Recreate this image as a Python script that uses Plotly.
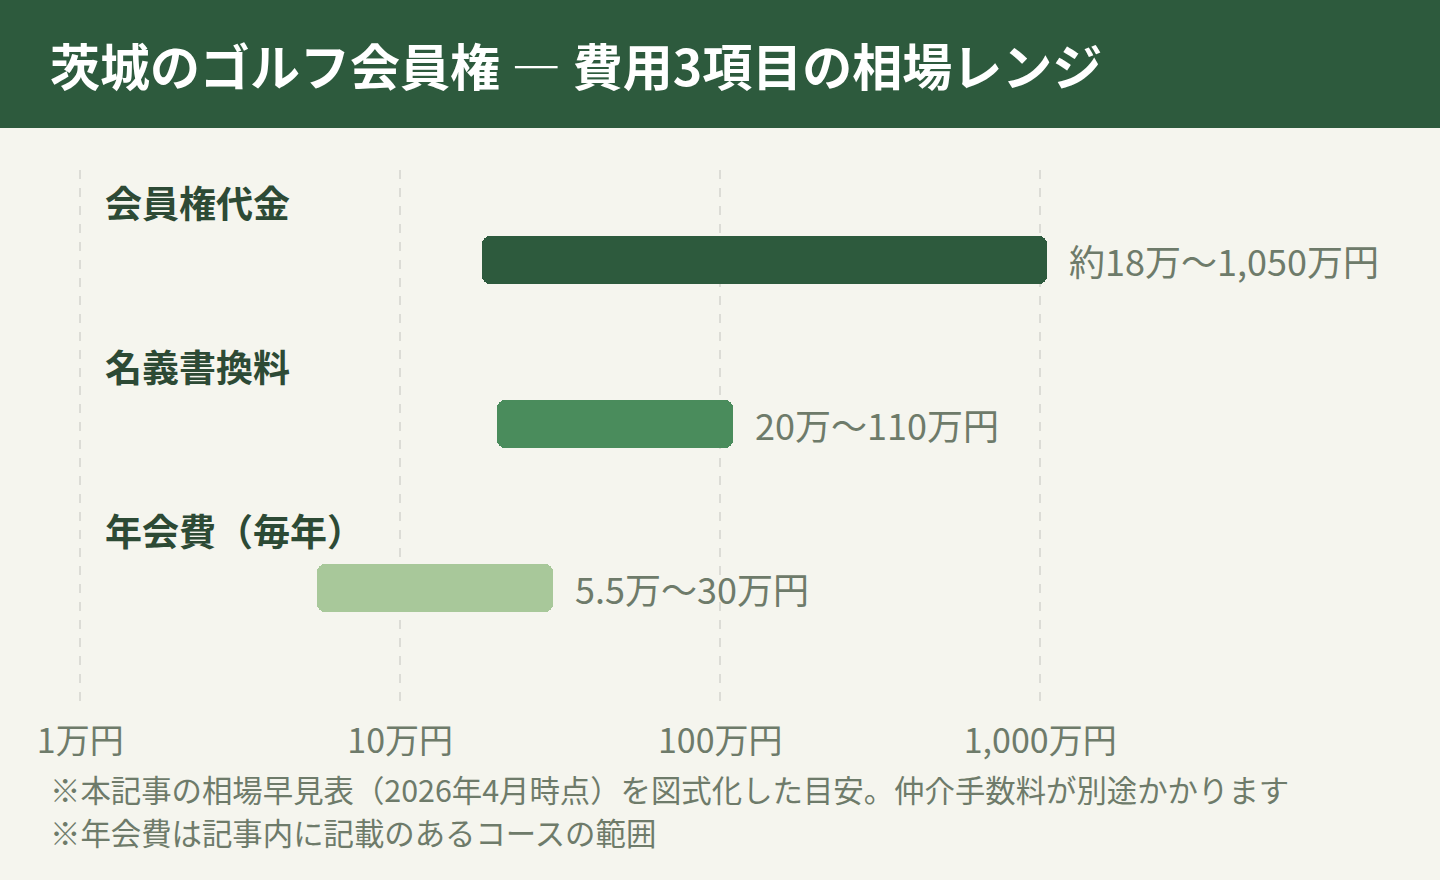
import math
import plotly.graph_objects as go

# Data (in 万円)
CATEGORIES = ["会員権代金", "名義書換料", "年会費（毎年）"]
LOW = [18, 20, 5.5]
HIGH = [1050, 110, 30]
RANGE_LABELS = ["約18万〜1,050万円", "20万〜110万円", "5.5万〜30万円"]
BAR_COLORS = ["#2d5a3d", "#4a8c5c", "#a8c89a"]

TICK_VALS = [1, 10, 100, 1000]
TICK_TEXT = ["1万円", "10万円", "100万円", "1,000万円"]

TITLE = "茨城のゴルフ会員権 ― 費用3項目の相場レンジ"
NOTES = [
    "※本記事の相場早見表（2026年4月時点）を図式化した目安。仲介手数料が別途かかります",
    "※年会費は記事内に記載のあるコースの範囲",
]

FONT = "Noto Sans CJK JP, Noto Sans, sans-serif"
BG = "#f5f5ee"
HEADER = "#2d5a3d"
LABEL_COLOR = "#2d4a35"
GRAY = "#6e7b6a"

# pixel layout helpers (range starts a hair below 1万 so its gridline is drawn)
W, H = 1440, 880
M_L, M_R, M_T, M_B = 77, 83, 170, 175
PLOT_H = H - M_T - M_B


def py(pix):
    # pixel-from-top -> paper y
    return (H - M_B - pix) / PLOT_H


def px(pix):
    return (pix - M_L) / (W - M_L - M_R)


ypos = list(range(len(CATEGORIES)))

fig = go.Figure()

fig.add_trace(go.Bar(
    y=ypos,
    x=[h - l for l, h in zip(LOW, HIGH)],
    base=LOW,
    orientation="h",
    width=0.293,
    marker=dict(color=BAR_COLORS, cornerradius=8, line_width=0),
    hovertemplate="%{customdata}<extra></extra>",
    customdata=RANGE_LABELS,
    showlegend=False,
))

# value labels right of bars
for i, (h, txt) in enumerate(zip(HIGH, RANGE_LABELS)):
    fig.add_annotation(
        x=math.log10(h), y=i, xref="x", yref="y",
        text=txt, showarrow=False, xanchor="left", yanchor="middle",
        xshift=20, font=dict(family=FONT, size=36, color=GRAY),
    )

# category labels above bars
for i, cat in enumerate(CATEGORIES):
    fig.add_annotation(
        x=px(103), y=i - 0.354, xref="paper", yref="y",
        text=f"<b>{cat}</b>", showarrow=False, xanchor="left", yanchor="middle",
        font=dict(family=FONT, size=37, color=LABEL_COLOR),
    )

# header band + title
fig.add_shape(type="rect", xref="paper", yref="paper",
              x0=px(0), x1=px(W), y0=py(128), y1=py(0),
              fillcolor=HEADER, line_width=0, layer="below")
fig.add_annotation(
    x=px(48), y=py(64), xref="paper", yref="paper",
    text=f"<b>{TITLE}</b>", showarrow=False, xanchor="left", yanchor="middle",
    font=dict(family=FONT, size=50, color="white"),
)

# footnotes
for note, pix in zip(NOTES, [789, 832]):
    fig.add_annotation(
        x=px(48), y=py(pix), xref="paper", yref="paper",
        text=note, showarrow=False, xanchor="left", yanchor="middle",
        font=dict(family=FONT, size=30.4, color=GRAY),
    )

fig.update_xaxes(
    type="log",
    range=[-0.01, 3.99],
    tickvals=TICK_VALS,
    ticktext=TICK_TEXT,
    tickfont=dict(family=FONT, size=34, color=GRAY),
    ticks="outside", ticklen=6, tickcolor="rgba(0,0,0,0)",
    showgrid=True, gridcolor="#dcdcd6", griddash="dash", gridwidth=1.5,
    zeroline=False, showline=False,
)
fig.update_yaxes(
    range=[2.713, -0.549],
    showticklabels=False, showgrid=False, zeroline=False, showline=False,
)

fig.update_layout(
    width=W, height=H,
    margin=dict(l=M_L, r=M_R, t=M_T, b=M_B),
    paper_bgcolor=BG, plot_bgcolor=BG,
    font=dict(family=FONT),
    bargap=0,
)

fig.write_html("out.html", config={"displayModeBar": False},
               post_script="document.body.style.margin='0';")
